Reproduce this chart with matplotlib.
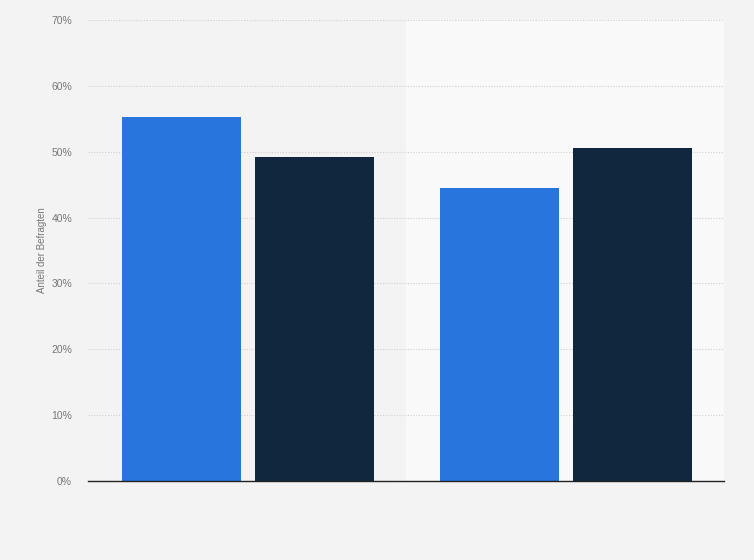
import matplotlib.pyplot as plt
import numpy as np

plt.rcParams['font.family'] = ['Liberation Sans', 'DejaVu Sans']

gruppen = ['', '']
serie_a = [55.3, 49.2]
serie_b = [44.5, 50.6]
werte_blau = [serie_a[0], serie_b[0]]
werte_dunkel = [serie_a[1], serie_b[1]]
y_ticks = [0, 10, 20, 30, 40, 50, 60, 70]

fig = plt.figure(figsize=(7.54, 5.6), dpi=100, facecolor='#f3f3f3')
ax = fig.add_axes([88/754, 79/560, 636/754, 461/560])
ax.set_facecolor('#f3f3f3')

x = np.arange(len(gruppen))
b = 0.374
off = 0.209

ax.axvspan(0.5, 1.5, color='#f9f9f9', zorder=0)
ax.bar(x - off + 0.003, werte_blau, b, color='#2876dd', zorder=3)
ax.bar(x + off + 0.003, werte_dunkel, b, color='#10273d', zorder=3)

ax.set_xlim(-0.5, 1.5)
ax.set_ylim(0, 70)
ax.set_yticks(y_ticks)
ax.set_yticklabels([f'{t}%' for t in y_ticks])
ax.set_xticks([])
ax.yaxis.grid(True, linestyle=(0, (1, 1.5)), color='#d0d0d0', linewidth=0.8, zorder=1)
ax.set_axisbelow(True)

for s in ['top', 'right', 'left']:
    ax.spines[s].set_visible(False)
ax.spines['bottom'].set_color('#222222')
ax.spines['bottom'].set_linewidth(1)
ax.spines['bottom'].set_zorder(4)

ax.tick_params(axis='y', length=0, pad=11.5, labelsize=7.5, labelcolor='#777777')
ax.set_ylabel('Anteil der Befragten', fontsize=7, color='#777777', labelpad=3)

fig.savefig('out.png', dpi=100, facecolor=fig.get_facecolor())
